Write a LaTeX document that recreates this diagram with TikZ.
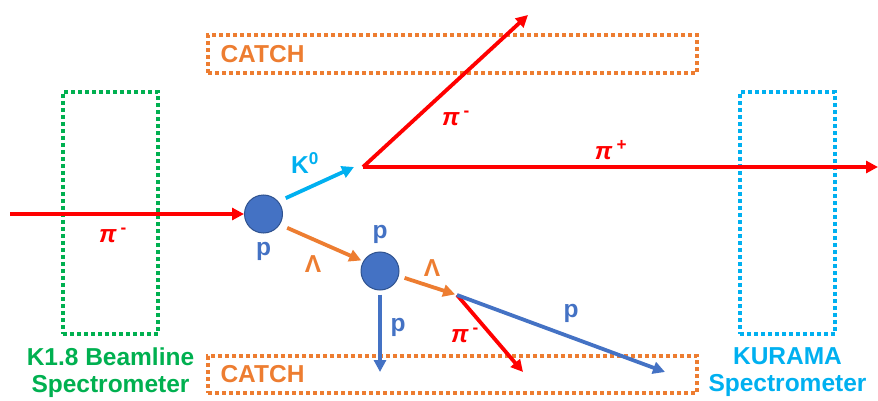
\documentclass[tikz,border=0pt]{standalone}
\usepackage{fontspec}
\setmainfont{Liberation Sans}
\usetikzlibrary{arrows.meta,positioning}
\definecolor{pionred}{HTML}{FF0000}
\definecolor{protonblue}{HTML}{4472C4}
\definecolor{protonedge}{HTML}{2F528F}
\definecolor{kaoncyan}{HTML}{00B0F0}
\definecolor{lambdaorange}{HTML}{ED7D31}
\definecolor{beamgreen}{HTML}{00B050}
\tikzstyle{detector} = [rectangle, line width=3.3pt, dash pattern=on 3.8pt off 3.2pt, inner sep=0pt]
\tikzstyle{track} = [-{Triangle[length=12pt,width=12pt]}, line width=3.8pt]
\tikzstyle{proton} = [circle, draw=protonedge, fill=protonblue, line width=1pt,
    minimum size=38pt, inner sep=0pt]
\tikzstyle{tag} = [font=\fontsize{24.5}{27}\selectfont\bfseries, inner sep=0pt]
\newcommand{\pim}{{\itshape π}\,\textsuperscript{-}}
\newcommand{\pip}{{\itshape π}\,\textsuperscript{+}}

\begin{document}
\begin{tikzpicture}[x=1pt, y=-1pt]
\useasboundingbox (0,0) rectangle (878,401);
% detectors
\node[detector, draw=beamgreen, minimum width=95pt, minimum height=242pt] (k18) at (110.5,213) {};
\node[detector, draw=kaoncyan, minimum width=95pt, minimum height=242pt] (kurama) at (787.5,213) {};
\node[detector, draw=lambdaorange, minimum width=489pt, minimum height=38pt] (catchup) at (452.5,54) {};
\node[detector, draw=lambdaorange, minimum width=489pt, minimum height=37pt] (catchdown) at (452.5,374.5) {};
\node[tag, beamgreen, align=center, below=12pt of k18] (k18label) {K1.8 Beamline\\Spectrometer};
\node[tag, kaoncyan, align=center, below=12pt of kurama] (kuramalabel) {KURAMA\\Spectrometer};
\node[tag, lambdaorange, anchor=west] (catchuplabel) at ([xshift=14pt]catchup.west) {CATCH};
\node[tag, lambdaorange, anchor=west] (catchdownlabel) at ([xshift=14pt]catchdown.west) {CATCH};
% targets and vertices
\node[proton] (p1) at (263.5,214) {};
\node[proton] (p2) at (380,271) {};
\coordinate (beamin) at (10,214);
\coordinate (kstop) at (354,167);
\coordinate (v1) at (363,167);
\coordinate (v2) at (457,295);
\coordinate (pimup) at (528,15);
\coordinate (pipout) at (878,167);
\coordinate (pdown) at (380,372);
\coordinate (pimdown) at (523,372);
\coordinate (pout) at (665,372);
% tracks
\draw[track, pionred] (beamin) -- (p1);
\draw[track, kaoncyan, shorten <=8pt] (p1.40) -- (kstop);
\draw[track, lambdaorange, shorten <=8pt, shorten >=2pt] (p1.-33) -- (p2.150);
\draw[track, pionred] (v1) -- (pimup);
\draw[track, pionred] (v1) -- (pipout);
\draw[track, protonblue, shorten <=4pt] (p2) -- (pdown);
\draw[track, lambdaorange, shorten <=6pt, shorten >=2pt] (p2.-15) -- (v2);
\draw[track, pionred] (v2) -- (pimdown);
\draw[track, protonblue] (v2) -- (pout);
% labels
\node[tag, pionred] (beamlabel) at (113,235) {\pim};
\node[tag, protonblue, below=9pt of p1] (p1label) {p};
\node[tag, protonblue, above=8pt of p2] (p2label) {p};
\node[tag, kaoncyan] (klabel) at (305,163) {K\textsuperscript{0}};
\node[tag, lambdaorange] (lambdaone) at (313,264) {Λ};
\node[tag, lambdaorange] (lambdatwo) at (432,268) {Λ};
\node[tag, pionred] (pimuplabel) at (456,118) {\pim};
\node[tag, pionred] (piplabel) at (611,150) {\pip};
\node[tag, pionred] (pimdownlabel) at (465,335) {\pim};
\node[tag, protonblue] (pdownlabel) at (398,327) {p};
\node[tag, protonblue] (poutlabel) at (571,313) {p};
\end{tikzpicture}
\end{document}
